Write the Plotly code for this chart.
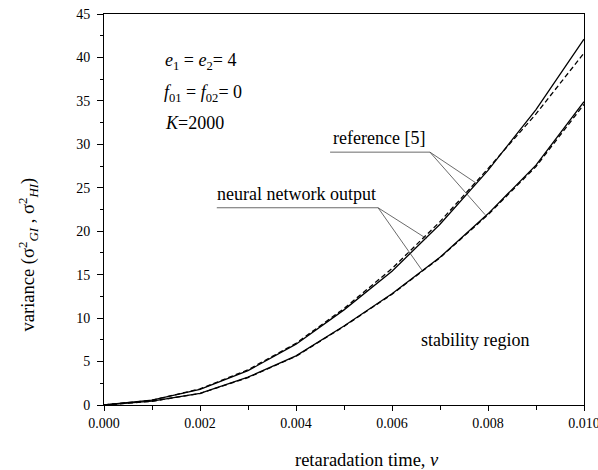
import plotly.graph_objects as go

nu = [0.000, 0.001, 0.002, 0.003, 0.004, 0.005, 0.006, 0.007, 0.008, 0.009, 0.010]
upper_nn = [0.0, 0.55, 1.80, 3.95, 7.00, 10.95, 15.40, 20.80, 27.00, 34.00, 42.10]
upper_ref = [0.0, 0.55, 1.85, 4.05, 7.10, 11.10, 15.70, 21.10, 27.20, 33.50, 40.50]
lower_nn = [0.0, 0.45, 1.35, 3.20, 5.65, 9.10, 12.80, 17.00, 22.00, 27.60, 34.90]
lower_ref = [0.0, 0.43, 1.32, 3.15, 5.60, 9.05, 12.75, 16.95, 21.90, 27.45, 34.60]

xticks = [0.000, 0.002, 0.004, 0.006, 0.008, 0.010]
xticklabels = ["0.000", "0.002", "0.004", "0.006", "0.008", "0.010"]
yticks = [0, 5, 10, 15, 20, 25, 30, 35, 40, 45]

FONT = "Liberation Serif, Times New Roman, serif"

fig = go.Figure()
for ys, dash in [(upper_nn, "solid"), (upper_ref, "5px,3px"), (lower_nn, "solid"), (lower_ref, "5px,3px")]:
    fig.add_trace(go.Scatter(x=nu, y=ys, mode="lines",
                             line=dict(color="black", width=1.3, dash=dash),
                             showlegend=False, hoverinfo="skip"))

# pointer lines
line_style = dict(color="#444444", width=0.8)
# reference [5]
fig.add_shape(type="line", x0=0.00471, y0=29.1, x1=0.00679, y1=29.1, xref="x", yref="y", line=line_style)
fig.add_shape(type="line", x0=0.00679, y0=29.1, x1=0.00775, y1=25.55, xref="x", yref="y", line=line_style)
fig.add_shape(type="line", x0=0.00679, y0=29.1, x1=0.00794, y1=21.9, xref="x", yref="y", line=line_style)
# neural network output
fig.add_shape(type="line", x0=0.00235, y0=22.7, x1=0.00571, y1=22.7, xref="x", yref="y", line=line_style)
fig.add_shape(type="line", x0=0.00571, y0=22.7, x1=0.00672, y1=19.15, xref="x", yref="y", line=line_style)
fig.add_shape(type="line", x0=0.00571, y0=22.7, x1=0.00662, y1=15.55, xref="x", yref="y", line=line_style)

ann_font = dict(family=FONT, size=18, color="black")
anns = [
    dict(x=0.00573, y=29.3, text="reference [5]", xanchor="center", yanchor="bottom"),
    dict(x=0.00402, y=22.9, text="neural network output", xanchor="center", yanchor="bottom"),
    dict(x=0.00773, y=7.5, text="stability region", xanchor="center", yanchor="middle"),
    dict(x=0.00122, y=39.5, text="<i>e</i><sub>1</sub> = <i>e</i><sub>2</sub>= 4", xanchor="left", yanchor="middle"),
    dict(x=0.00120, y=35.9, text="<i>f</i><sub>01</sub> = <i>f</i><sub>02</sub>= 0", xanchor="left", yanchor="middle"),
    dict(x=0.00122, y=32.5, text="<i>K</i>=2000", xanchor="left", yanchor="middle"),
]
for a in anns:
    fig.add_annotation(xref="x", yref="y", showarrow=False, font=ann_font, **a)

# axis titles (placed as in the reference, off-centre)
fig.add_annotation(xref="paper", yref="paper", x=0.547, y=0, yshift=-55,
                   text="retaradation time, <i>ν</i>", showarrow=False,
                   xanchor="center", yanchor="middle",
                   font=dict(family=FONT, size=18.5, color="black"))
fig.add_annotation(xref="paper", yref="paper", x=0, xshift=-76, y=0.385,
                   text="variance (σ<sup>2</sup><sub><i>GI</i></sub> , σ<sup>2</sup><sub><i>HI</i></sub>)",
                   textangle=-90, showarrow=False,
                   xanchor="center", yanchor="middle",
                   font=dict(family=FONT, size=18.5, color="black"))

fig.update_layout(
    width=598, height=470,
    margin=dict(l=104, r=14, t=14, b=65),
    plot_bgcolor="white", paper_bgcolor="white",
    font=dict(family=FONT, size=14, color="black"),
    xaxis=dict(range=[0, 0.010], tickvals=xticks, ticktext=xticklabels,
               ticks="outside", ticklen=5, tickcolor="black", automargin=False,
               ticklabeloverflow="allow",
               showline=True, linecolor="black", linewidth=1, mirror=True,
               showgrid=False, zeroline=False,
               minor=dict(dtick=0.001, ticks="outside", ticklen=4, tickcolor="black"),
               tickfont=dict(family=FONT, size=14)),
    yaxis=dict(range=[0, 45], tickvals=yticks,
               ticks="outside", ticklen=6, tickcolor="black", automargin=False,
               showline=True, linecolor="black", linewidth=1, mirror=True,
               showgrid=False, zeroline=False, ticklabelstandoff=4,
               minor=dict(dtick=2.5, ticks="outside", ticklen=3, tickcolor="black"),
               tickfont=dict(family=FONT, size=14)),
)

fig.write_html("out.html", config={"displayModeBar": False},
               post_script="document.body.style.margin='0';document.body.style.overflow='hidden';")
